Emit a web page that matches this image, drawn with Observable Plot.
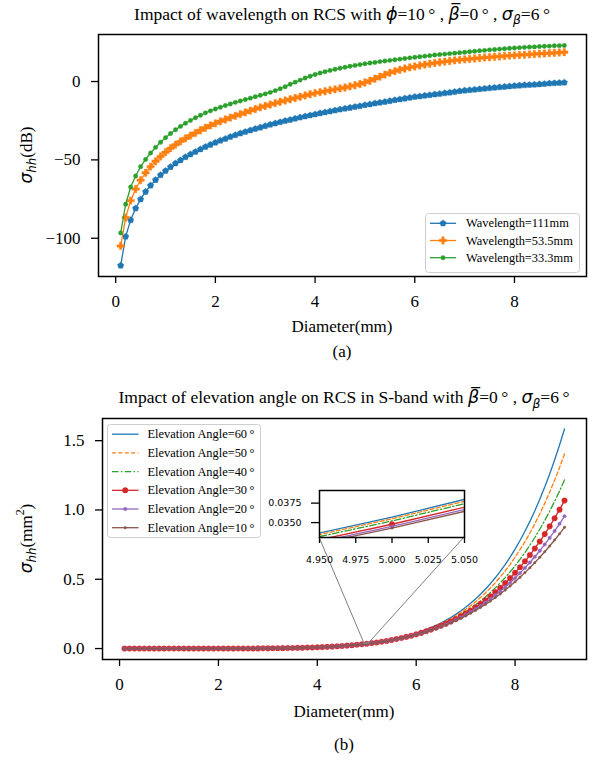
<!DOCTYPE html>
<html><head><meta charset="utf-8">
<script src="https://cdn.jsdelivr.net/npm/d3@7"></script>
<script src="https://cdn.jsdelivr.net/npm/@observablehq/plot@0.6"></script>
<style>
html,body{margin:0;padding:0;background:#fff;}
#root{position:relative;width:594px;height:763px;overflow:hidden;background:#fff;}
#root > *{position:absolute;}
</style></head><body><div id="root"></div>
<script>
// ---------- data ----------
const diameters = [0.1,0.2,0.3,0.4,0.5,0.6,0.7,0.8,0.9,1.0,
1.1,1.2,1.3,1.4,1.5,1.6,1.7,1.8,1.9,2.0,
2.1,2.2,2.3,2.4,2.5,2.6,2.7,2.8,2.9,3.0,
3.1,3.2,3.3,3.4,3.5,3.6,3.7,3.8,3.9,4.0,
4.1,4.2,4.3,4.4,4.5,4.6,4.7,4.8,4.9,5.0,
5.1,5.2,5.3,5.4,5.5,5.6,5.7,5.8,5.9,6.0,
6.1,6.2,6.3,6.4,6.5,6.6,6.7,6.8,6.9,7.0,
7.1,7.2,7.3,7.4,7.5,7.6,7.7,7.8,7.9,8.0,
8.1,8.2,8.3,8.4,8.5,8.6,8.7,8.8,8.9,9.0];

// (a) sigma_hh in dB
const wl111 = [-117.4,-98.9,-88.4,-80.9,-75.1,-70.3,-66.3,-62.8,-59.7,-57.0,
-54.5,-52.2,-50.2,-48.2,-46.4,-44.8,-43.2,-41.7,-40.3,-38.9,
-37.7,-36.5,-35.3,-34.2,-33.1,-32.1,-31.1,-30.2,-29.3,-28.4,
-27.5,-26.7,-25.9,-25.1,-24.4,-23.6,-22.9,-22.2,-21.5,-20.9,
-20.2,-19.6,-19.0,-18.4,-17.8,-17.2,-16.7,-16.1,-15.6,-15.0,
-14.5,-13.9,-13.4,-12.9,-12.4,-11.8,-11.3,-10.8,-10.3,-9.8,
-9.4,-9.0,-8.6,-8.2,-7.8,-7.4,-7.0,-6.6,-6.1,-5.7,
-5.4,-5.1,-4.8,-4.5,-4.2,-3.9,-3.6,-3.3,-3.0,-2.7,
-2.5,-2.3,-2.1,-1.9,-1.7,-1.5,-1.2,-1.0,-0.8,-0.6];
const wl535 = [-104.9,-86.8,-76.0,-68.6,-62.9,-58.2,-54.3,-50.9,-47.8,-45.1,
-42.6,-40.3,-38.2,-36.3,-34.5,-32.8,-31.1,-29.5,-28.0,-26.7,
-25.4,-24.2,-23.0,-21.9,-20.8,-19.7,-18.6,-17.5,-16.5,-15.6,
-14.7,-13.8,-12.9,-12.1,-11.3,-10.5,-9.7,-8.9,-8.1,-7.4,
-6.8,-6.2,-5.6,-5.0,-4.4,-3.8,-3.1,-2.4,-1.6,-0.6,
0.5,1.8,3.1,4.4,5.6,6.6,7.5,8.3,9.0,9.6,
10.2,10.8,11.3,11.8,12.3,12.7,13.1,13.5,13.8,14.1,
14.4,14.7,15.0,15.3,15.5,15.8,16.0,16.3,16.5,16.7,
16.9,17.1,17.3,17.5,17.7,17.9,18.1,18.3,18.5,18.7];
const wl333 = [-96.6,-78.3,-67.3,-60.3,-54.3,-49.7,-45.6,-42.0,-38.7,-35.8,
-33.2,-30.8,-28.6,-26.6,-24.8,-23.1,-21.5,-20.0,-18.7,-17.5,
-16.4,-15.3,-14.3,-13.3,-12.4,-11.5,-10.6,-9.7,-8.8,-7.9,
-6.9,-5.8,-4.6,-3.3,-1.7,-0.4,0.9,2.2,3.4,4.5,
5.4,6.3,7.1,7.8,8.5,9.1,9.7,10.3,10.8,11.3,
11.8,12.2,12.7,13.1,13.5,13.9,14.3,14.7,15.1,15.5,
15.8,16.2,16.5,16.9,17.2,17.5,17.8,18.1,18.4,18.7,
19.0,19.3,19.6,19.9,20.2,20.4,20.7,20.9,21.2,21.4,
21.6,21.8,22.0,22.1,22.3,22.5,22.6,22.8,22.9,23.0];
const wavelengthLabels = ["Wavelength=111mm","Wavelength=53.5mm","Wavelength=33.3mm"];

// (b) sigma_hh in mm^2 : D = 0.1 .. 4.8 (all six curves coincide there)
const lowDiameterValues = [0,0,0,0,0,0,0,0,0,0.000002,
0.000004,0.000007,0.000011,0.000017,0.000026,0.000038,0.000054,0.000076,0.000105,0.000143,
0.000192,0.000254,0.000332,0.000428,0.000547,0.000692,0.000868,0.00108,0.00133,0.00163,
0.00199,0.00241,0.00289,0.00346,0.00412,0.00488,0.00575,0.00674,0.00788,0.00918,
0.01064,0.01230,0.01416,0.01625,0.01860,0.02122,0.02414,0.02740];
// D = 4.9 .. 9.0
const el60 = [0.03162,0.03570,0.04026,0.0453,0.0510,0.0572,0.0641,0.0717,0.0801,0.0894,
0.0995,0.1107,0.1229,0.1363,0.1509,0.1669,0.1844,0.2034,0.2242,0.2467,
0.2712,0.2978,0.3266,0.3579,0.3917,0.4283,0.4679,0.5106,0.5567,0.6062,
0.6596,0.7176,0.7795,0.8461,0.9175,0.9943,1.0768,1.1650,1.2595,1.3605,
1.4684,1.5845];
const el50 = [0.03143,0.03549,0.03999,0.0450,0.0505,0.0566,0.0633,0.0707,0.0788,0.0877,
0.0975,0.1081,0.1198,0.1325,0.1463,0.1614,0.1778,0.1955,0.2148,0.2357,
0.2583,0.2827,0.3091,0.3376,0.3683,0.4014,0.4370,0.4752,0.5163,0.5604,
0.6076,0.6587,0.7131,0.7714,0.8336,0.9002,0.9715,1.0474,1.1284,1.2146,
1.3063,1.4047];
const el40 = [0.03119,0.03521,0.03966,0.0446,0.0500,0.0559,0.0624,0.0696,0.0774,0.0859,
0.0952,0.1054,0.1164,0.1283,0.1413,0.1554,0.1706,0.1870,0.2047,0.2239,
0.2445,0.2666,0.2904,0.3160,0.3434,0.3728,0.4042,0.4378,0.4737,0.5120,
0.5528,0.5968,0.6433,0.6928,0.7454,0.8014,0.8610,0.9241,0.9910,1.0618,
1.1367,1.2166];
const el30 = [0.03081,0.03479,0.03917,0.0440,0.0493,0.0550,0.0614,0.0683,0.0758,0.0840,
0.0929,0.1026,0.1131,0.1244,0.1367,0.1499,0.1642,0.1795,0.1960,0.2137,
0.2326,0.2529,0.2746,0.2978,0.3226,0.3490,0.3772,0.4071,0.4389,0.4726,
0.5083,0.5467,0.5870,0.6296,0.6746,0.7223,0.7727,0.8258,0.8817,0.9405,
1.0023,1.0678];
const el20 = [0.03057,0.03451,0.03884,0.0436,0.0488,0.0544,0.0606,0.0674,0.0747,0.0827,
0.0913,0.1006,0.1107,0.1216,0.1333,0.1459,0.1594,0.1739,0.1895,0.2061,
0.2238,0.2427,0.2628,0.2843,0.3071,0.3312,0.3569,0.3840,0.4126,0.4429,
0.4748,0.5088,0.5444,0.5818,0.6210,0.6624,0.7058,0.7512,0.7987,0.8484,
0.9002,0.9547];
const el10 = [0.03038,0.03430,0.03859,0.0433,0.0484,0.0540,0.0601,0.0667,0.0739,0.0817,
0.0901,0.0992,0.1090,0.1196,0.1309,0.1430,0.1561,0.1700,0.1848,0.2007,
0.2175,0.2354,0.2545,0.2746,0.2960,0.3186,0.3425,0.3676,0.3940,0.4218,
0.4510,0.4820,0.5142,0.5480,0.5832,0.6200,0.6585,0.6986,0.7402,0.7834,
0.8281,0.8750];
const elevationAngles = ["60","50","40","30","20","10"];
const elevationHigh = [el60, el50, el40, el30, el20, el10];

const ticksA_x = [0,2,4,6,8], ticksA_y = [-100,-50,0];
const ticksB_x = [0,2,4,6,8], ticksB_y = [0,0.5,1.0,1.5];
const ticksInset_x = [4.95,4.975,5.0,5.025,5.05], ticksInset_y = [0.035,0.0375];
const insetDomainX = [4.95,5.05], insetDomainY = [0.03309,0.03912];

// ---------- styling / layout ----------
const SERIF = "'Liberation Serif','Times New Roman',serif";
const MATH = "'DejaVu Sans',sans-serif";
const root = document.getElementById("root");
function put(node, left, top){ node.style.left = left+"px"; node.style.top = top+"px"; root.appendChild(node); return node; }
const pentagon = {draw(ctx, size){ const R = Math.sqrt(size/2.3776);
  for(let i=0;i<5;i++){ const a=-Math.PI/2+i*2*Math.PI/5; const x=R*Math.cos(a), y=R*Math.sin(a); if(i===0) ctx.moveTo(x,y); else ctx.lineTo(x,y);} ctx.closePath(); }};
const symType = s => s === "cross" ? d3.symbolCross : s === "circle" ? d3.symbolCircle : s;
const fmtMinus = d => (d < 0 ? "\u2212" + Math.abs(d) : String(d));

const styleA = [
  {color:"#1f77b4", symbol: pentagon, r: 2.9},
  {color:"#ff7f0e", symbol: "cross", r: 3.1},
  {color:"#2ca02c", symbol: "circle", r: 2.2}
];
const styleB = [
  {color:"#1f77b4", dash:null},
  {color:"#ff7f0e", dash:"4,2.4"},
  {color:"#2ca02c", dash:"6.5,2.4,1.4,2.4"},
  {color:"#d62728", dash:null, symbol:"circle", r:2.8},
  {color:"#9467bd", dash:null, symbol:"circle", r:1.8},
  {color:"#8c564b", dash:null, symbol:"circle", r:1.3}
];

// ---------- plot (a) ----------
const A = {left:0, top:0, width:594, height:320, mL:98, mR:8, mT:34, mB:44};
const marksA = [];
[wl111, wl535, wl333].forEach((vals, k) => {
  const rows = vals.map((v,i) => ({d: diameters[i], v}));
  const st = styleA[k];
  marksA.push(Plot.line(rows, {x:"d", y:"v", stroke: st.color, strokeWidth: 1.3}));
  marksA.push(Plot.dot(rows, {x:"d", y:"v", symbol: st.symbol, r: st.r, fill: st.color, stroke: st.color, strokeWidth: 0.4}));
});
const plotA = Plot.plot({
  width: A.width, height: A.height, marginLeft: A.mL, marginRight: A.mR, marginTop: A.mT, marginBottom: A.mB,
  x: {domain: [-0.345, 9.445]}, y: {domain: [-124.4, 30]},
  style: {fontFamily: SERIF, fontSize: "17px", color: "#000", background: "transparent", overflow: "visible"},
  marks: [
    ...marksA,
    Plot.frame({stroke: "#000", strokeWidth: 1.5}),
    Plot.axisX(ticksA_x, {tickSize: 7, tickPadding: 11, strokeWidth: 1.3, label: null}),
    Plot.axisY(ticksA_y, {tickSize: 7, tickPadding: 11, strokeWidth: 1.3, label: null, tickFormat: fmtMinus})
  ]
});
put(plotA, A.left, A.top);

// ---------- plot (b) ----------
const B = {left:0, top:380, width:594, height:320, mL:102, mR:8, mT:38, mB:41};
const seriesB = elevationHigh.map(h => lowDiameterValues.concat(h));
function marksFor(clip){
  const out = [];
  seriesB.forEach((vals, k) => {
    const rows = vals.map((v,i) => ({d: diameters[i], v}));
    const st = styleB[k];
    out.push(Plot.line(rows, {x:"d", y:"v", stroke: st.color, strokeWidth: 1.3, strokeDasharray: st.dash || undefined, clip}));
    if (st.symbol) out.push(Plot.dot(rows, {x:"d", y:"v", symbol: st.symbol, r: st.r, fill: st.color, stroke: st.color, strokeWidth: 0.3, clip}));
  });
  return out;
}
const plotB = Plot.plot({
  width: B.width, height: B.height, marginLeft: B.mL, marginRight: B.mR, marginTop: B.mT, marginBottom: B.mB,
  x: {domain: [-0.345, 9.445]}, y: {domain: [-0.079, 1.66]},
  style: {fontFamily: SERIF, fontSize: "17px", color: "#000", background: "transparent", overflow: "visible"},
  marks: [
    ...marksFor(false),
    Plot.frame({stroke: "#000", strokeWidth: 1.5}),
    Plot.axisX(ticksB_x, {tickSize: 7, tickPadding: 11, strokeWidth: 1.3, label: null}),
    Plot.axisY(ticksB_y, {tickSize: 7, tickPadding: 11, strokeWidth: 1.3, label: null, tickFormat: d3.format(".1f")})
  ]
});
put(plotB, B.left, B.top);

// ---------- inset ----------
const I = {left:269, top:485, width:205, height:80, mL:50, mR:10, mT:5, mB:28};
const inset = Plot.plot({
  width: I.width, height: I.height, marginLeft: I.mL, marginRight: I.mR, marginTop: I.mT, marginBottom: I.mB,
  x: {domain: insetDomainX}, y: {domain: insetDomainY},
  style: {fontFamily: MATH, fontSize: "9.5px", color: "#000", background: "transparent", overflow: "visible"},
  marks: [
    Plot.frame({fill: "white", stroke: "none"}),
    ...marksFor(true),
    Plot.frame({stroke: "#000", strokeWidth: 1.5}),
    Plot.axisX(ticksInset_x, {tickSize: 6, tickPadding: 13, strokeWidth: 1.3, label: null, tickFormat: d3.format(".3f")}),
    Plot.axisY(ticksInset_y, {tickSize: 8, tickPadding: 10, strokeWidth: 1.3, label: null, tickFormat: d3.format(".4f")})
  ]
});

// connectors (drawn beneath the inset)
const sxB = plotB.scale("x"), syB = plotB.scale("y");
const rx0 = B.left + sxB.apply(insetDomainX[0]), rx1 = B.left + sxB.apply(insetDomainX[1]);
const ryT = B.top + syB.apply(insetDomainY[1]), ryB = B.top + syB.apply(insetDomainY[0]);
const iL = I.left + I.mL, iR = I.left + I.width - I.mR, iB = I.top + I.height - I.mB;
const conn = d3.create("svg").attr("width", 594).attr("height", 763);
conn.append("line").attr("x1", iL).attr("y1", iB).attr("x2", rx0).attr("y2", ryT).attr("stroke", "#7f7f7f").attr("stroke-width", 1);
conn.append("line").attr("x1", iR).attr("y1", iB).attr("x2", rx1).attr("y2", ryT).attr("stroke", "#7f7f7f").attr("stroke-width", 1);
conn.append("rect").attr("x", rx0).attr("y", ryT).attr("width", rx1 - rx0).attr("height", Math.max(0.5, ryB - ryT)).attr("fill", "none").attr("stroke", "#7f7f7f").attr("stroke-width", 1);
put(conn.node(), 0, 0);
put(inset, I.left, I.top);

// ---------- legends ----------
function drawLegend(box, entries){
  const svg = d3.create("svg").attr("width", box.w + 2).attr("height", box.h + 2);
  svg.append("rect").attr("x", 0.5).attr("y", 0.5).attr("width", box.w).attr("height", box.h).attr("rx", 3)
    .attr("fill", "rgba(255,255,255,0.85)").attr("stroke", "#cfcfcf");
  entries.forEach((e, i) => {
    const y = box.row0 + i * box.step;
    svg.append("line").attr("x1", box.lx0).attr("x2", box.lx1).attr("y1", y).attr("y2", y)
      .attr("stroke", e.color).attr("stroke-width", 1.3).attr("stroke-dasharray", e.dash || null);
    if (e.symbol) svg.append("path").attr("d", d3.symbol(symType(e.symbol), Math.PI * e.r * e.r)())
      .attr("transform", `translate(${(box.lx0 + box.lx1) / 2},${y})`).attr("fill", e.color).attr("stroke", e.color).attr("stroke-width", 0.4);
    svg.append("text").attr("x", box.tx).attr("y", y).attr("dy", "0.33em").attr("font-family", SERIF)
      .attr("font-size", 12.4).attr("fill", "#000").text(e.label);
  });
  put(svg.node(), box.x, box.y);
}
drawLegend({x:425, y:213, w:154, h:59, row0:10.3, step:17.2, lx0:5, lx1:31, tx:41},
  wavelengthLabels.map((l, k) => ({label: l, ...styleA[k]})));
drawLegend({x:107, y:424, w:153, h:113, row0:10.2, step:18.7, lx0:5, lx1:31.5, tx:40.5},
  elevationAngles.map((a, k) => ({label: "Elevation Angle=" + a + "\u2009°", ...styleB[k]})));

// ---------- texts ----------
const txt = d3.create("svg").attr("width", 594).attr("height", 763).style("pointer-events", "none");
function rich(x, y, size, parts, rotate){
  const t = txt.append("text").attr("x", x).attr("y", y).attr("text-anchor", "middle")
    .attr("font-size", size).attr("font-family", SERIF).attr("fill", "#000");
  if (rotate) t.attr("transform", `rotate(-90 ${x} ${y})`);
  let shift = 0;
  parts.forEach(p => {
    const ts = t.append("tspan").text(p.t);
    if (p.m) ts.attr("font-family", MATH).attr("font-style", "italic");
    const want = p.sub ? size * 0.28 : p.sup ? -size * 0.42 : 0;
    if (want !== shift) { ts.attr("dy", want - shift); shift = want; }
    if (p.sub || p.sup) ts.attr("font-size", size * 0.7);
  });
}
const cxA = A.left + A.mL + (A.width - A.mL - A.mR) / 2;
const cxB = B.left + B.mL + (B.width - B.mL - B.mR) / 2;
rich(cxA, 19.5, 17.5, [
  {t:"Impact of wavelength on RCS with "}, {t:"\u03D5", m:true}, {t:"=10\u2009° , "},
  {t:"\u03B2\u0305", m:true}, {t:"=0\u2009° , "}, {t:"\u03C3", m:true}, {t:"\u03B2", m:true, sub:true}, {t:"=6\u2009°"}
]);
rich(cxA, 332, 17, [{t:"Diameter(mm)"}]);
rich(cxA, 357, 17, [{t:"(a)"}]);
rich(31.5, A.top + A.mT + (A.height - A.mT - A.mB) / 2, 17, [{t:"\u03C3", m:true}, {t:"hh", m:true, sub:true}, {t:"(dB)"}], true);

rich(cxB, 403, 17.5, [
  {t:"Impact of elevation angle on RCS in S-band with "}, {t:"\u03B2\u0305", m:true}, {t:"=0\u2009° , "},
  {t:"\u03C3", m:true}, {t:"\u03B2", m:true, sub:true}, {t:"=6\u2009°"}
]);
rich(cxB, 717, 17, [{t:"Diameter(mm)"}]);
rich(cxB, 750, 17, [{t:"(b)"}]);
rich(31.5, B.top + B.mT + (B.height - B.mT - B.mB) / 2, 17, [{t:"\u03C3", m:true}, {t:"hh", m:true, sub:true}, {t:"(mm"}, {t:"2", sup:true}, {t:")"}], true);
put(txt.node(), 0, 0);
</script></body></html>
